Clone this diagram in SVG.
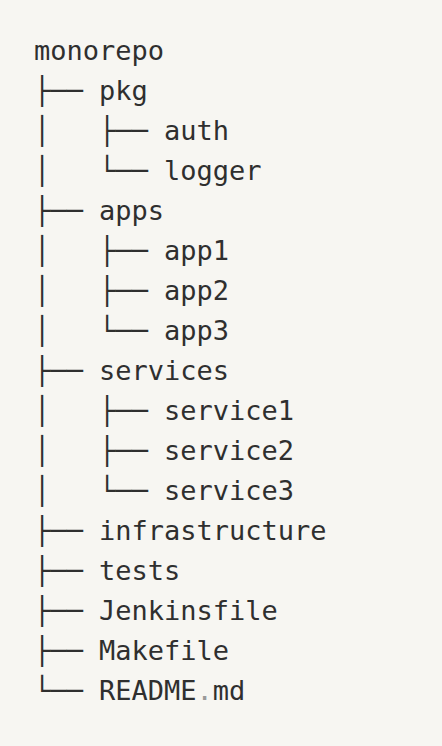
<svg xmlns="http://www.w3.org/2000/svg" width="442" height="746" viewBox="0 0 442 746">
<style>
text{font-family:"DejaVu Sans Mono","Liberation Mono",monospace;font-size:27px;fill:#2f2f2f;white-space:pre}
.dim{fill:#9a9a9a}
</style>
<rect width="442" height="746" fill="#f7f6f2"/>
<g id="connectors">
<text x="34" y="100" xml:space="preserve">├──</text>
<text x="34" y="140" xml:space="preserve">│   ├──</text>
<text x="34" y="180" xml:space="preserve">│   └──</text>
<text x="34" y="220" xml:space="preserve">├──</text>
<text x="34" y="260" xml:space="preserve">│   ├──</text>
<text x="34" y="300" xml:space="preserve">│   ├──</text>
<text x="34" y="340" xml:space="preserve">│   └──</text>
<text x="34" y="380" xml:space="preserve">├──</text>
<text x="34" y="420" xml:space="preserve">│   ├──</text>
<text x="34" y="460" xml:space="preserve">│   ├──</text>
<text x="34" y="500" xml:space="preserve">│   └──</text>
<text x="34" y="540" xml:space="preserve">├──</text>
<text x="34" y="580" xml:space="preserve">├──</text>
<text x="34" y="620" xml:space="preserve">├──</text>
<text x="34" y="660" xml:space="preserve">├──</text>
<text x="34" y="700" xml:space="preserve">└──</text>
</g>
<g id="monorepo"><text x="34" y="60">monorepo</text></g>
<g id="pkg"><text x="99" y="100">pkg</text></g>
<g id="auth"><text x="164" y="140">auth</text></g>
<g id="logger"><text x="164" y="180">logger</text></g>
<g id="apps"><text x="99" y="220">apps</text></g>
<g id="app1"><text x="164" y="260">app1</text></g>
<g id="app2"><text x="164" y="300">app2</text></g>
<g id="app3"><text x="164" y="340">app3</text></g>
<g id="services"><text x="99" y="380">services</text></g>
<g id="service1"><text x="164" y="420">service1</text></g>
<g id="service2"><text x="164" y="460">service2</text></g>
<g id="service3"><text x="164" y="500">service3</text></g>
<g id="infrastructure"><text x="99" y="540">infrastructure</text></g>
<g id="tests"><text x="99" y="580">tests</text></g>
<g id="jenkinsfile"><text x="99" y="620">Jenkinsfile</text></g>
<g id="makefile"><text x="99" y="660">Makefile</text></g>
<g id="readme"><text x="99" y="700">README<tspan class="dim">.</tspan>md</text></g>
</svg>
